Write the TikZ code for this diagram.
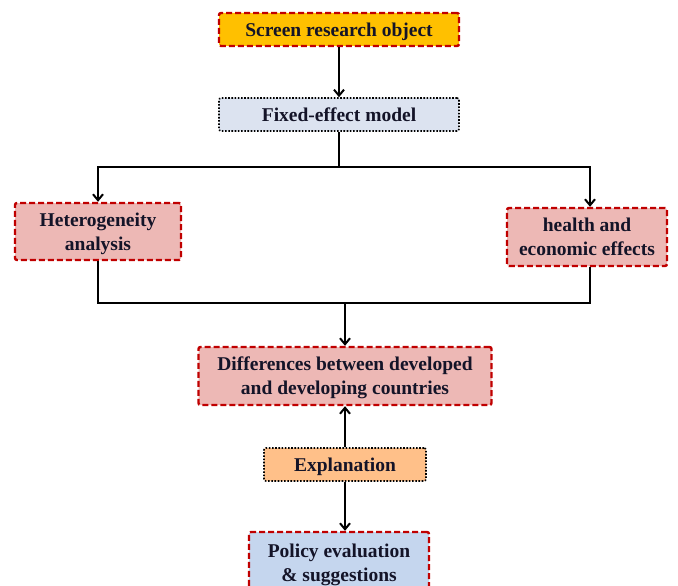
\documentclass[tikz,border=0pt]{standalone}
\usepackage{fontspec}
\setmainfont{Liberation Serif}
\usetikzlibrary{arrows.meta,calc}
\definecolor{dred}{HTML}{C00000}
\definecolor{orangefill}{HTML}{FFC000}
\definecolor{greyblue}{HTML}{DCE3F0}
\definecolor{pinkfill}{HTML}{EDB8B5}
\definecolor{peach}{HTML}{FFC089}
\definecolor{lightblue}{HTML}{C5D6EE}
\definecolor{txt}{HTML}{141428}
\newcommand\boxtxt[1]{\raisebox{-7pt}[0pt][0pt]{\begin{tabular}{@{}c@{}}#1\end{tabular}}}
\tikzset{
  box/.style={rectangle, rounded corners=2pt, text=txt,
    font=\fontsize{19.5}{24}\selectfont\bfseries, inner sep=0pt},
  redbox/.style={box, draw=dred, line width=2.4pt, dash pattern=on 6pt off 3pt},
  dotbox/.style={box, draw=black, line width=1.6pt, dash pattern=on 1.6pt off 1.6pt},
  conn/.style={line width=2pt, draw=black},
  arr/.style={conn, -{Straight Barb[length=6pt,width=10pt,line width=2pt]}}
}
\begin{document}
\begin{tikzpicture}[x=1pt,y=-1pt]
\useasboundingbox (0,0) rectangle (678,586);
\clip (0,0) rectangle (678,586);
\fill[white] (0,0) rectangle (678,586);
\node[redbox, fill=orangefill, minimum width=240pt, minimum height=33pt] (top) at (339,29.5) {\boxtxt{Screen research object}};
\node[dotbox, fill=greyblue, minimum width=240pt, minimum height=33pt] (fixed) at (339,114.5) {\boxtxt{Fixed-effect model}};
\node[redbox, fill=pinkfill, minimum width=166pt, minimum height=57pt] (het) at (98,231.5) {\boxtxt{Heterogeneity\\analysis}};
\node[redbox, fill=pinkfill, minimum width=160pt, minimum height=58pt] (health) at (587,237) {\boxtxt{health and\\economic effects}};
\node[redbox, fill=pinkfill, minimum width=293pt, minimum height=58pt] (diff) at (345,376) {\boxtxt{Differences between developed\\and developing countries}};
\node[dotbox, fill=peach, minimum width=162pt, minimum height=33pt] (expl) at (345,464.5) {\boxtxt{Explanation}};
\node[redbox, fill=lightblue, minimum width=180pt, minimum height=62pt] (policy) at (339,563) {\boxtxt{Policy evaluation\\\& suggestions}};
\coordinate (j1) at (339,167);
\coordinate (j2) at (345,303);
\draw[arr] (top.south) -- (fixed.north);
\draw[conn] (fixed.south) -- (j1);
\draw[arr] (j1) -| (het.north);
\draw[arr] (j1) -| ($(health.north)+(3,0)$);
\draw[conn] (het.south) |- (j2);
\draw[conn] ($(health.south)+(3,0)$) |- (j2);
\draw[arr] (j2) -- (diff.north);
\draw[arr] (expl.north) -- (diff.south);
\draw[arr] (expl.south) -- (expl.south |- policy.north);
\end{tikzpicture}
\end{document}
